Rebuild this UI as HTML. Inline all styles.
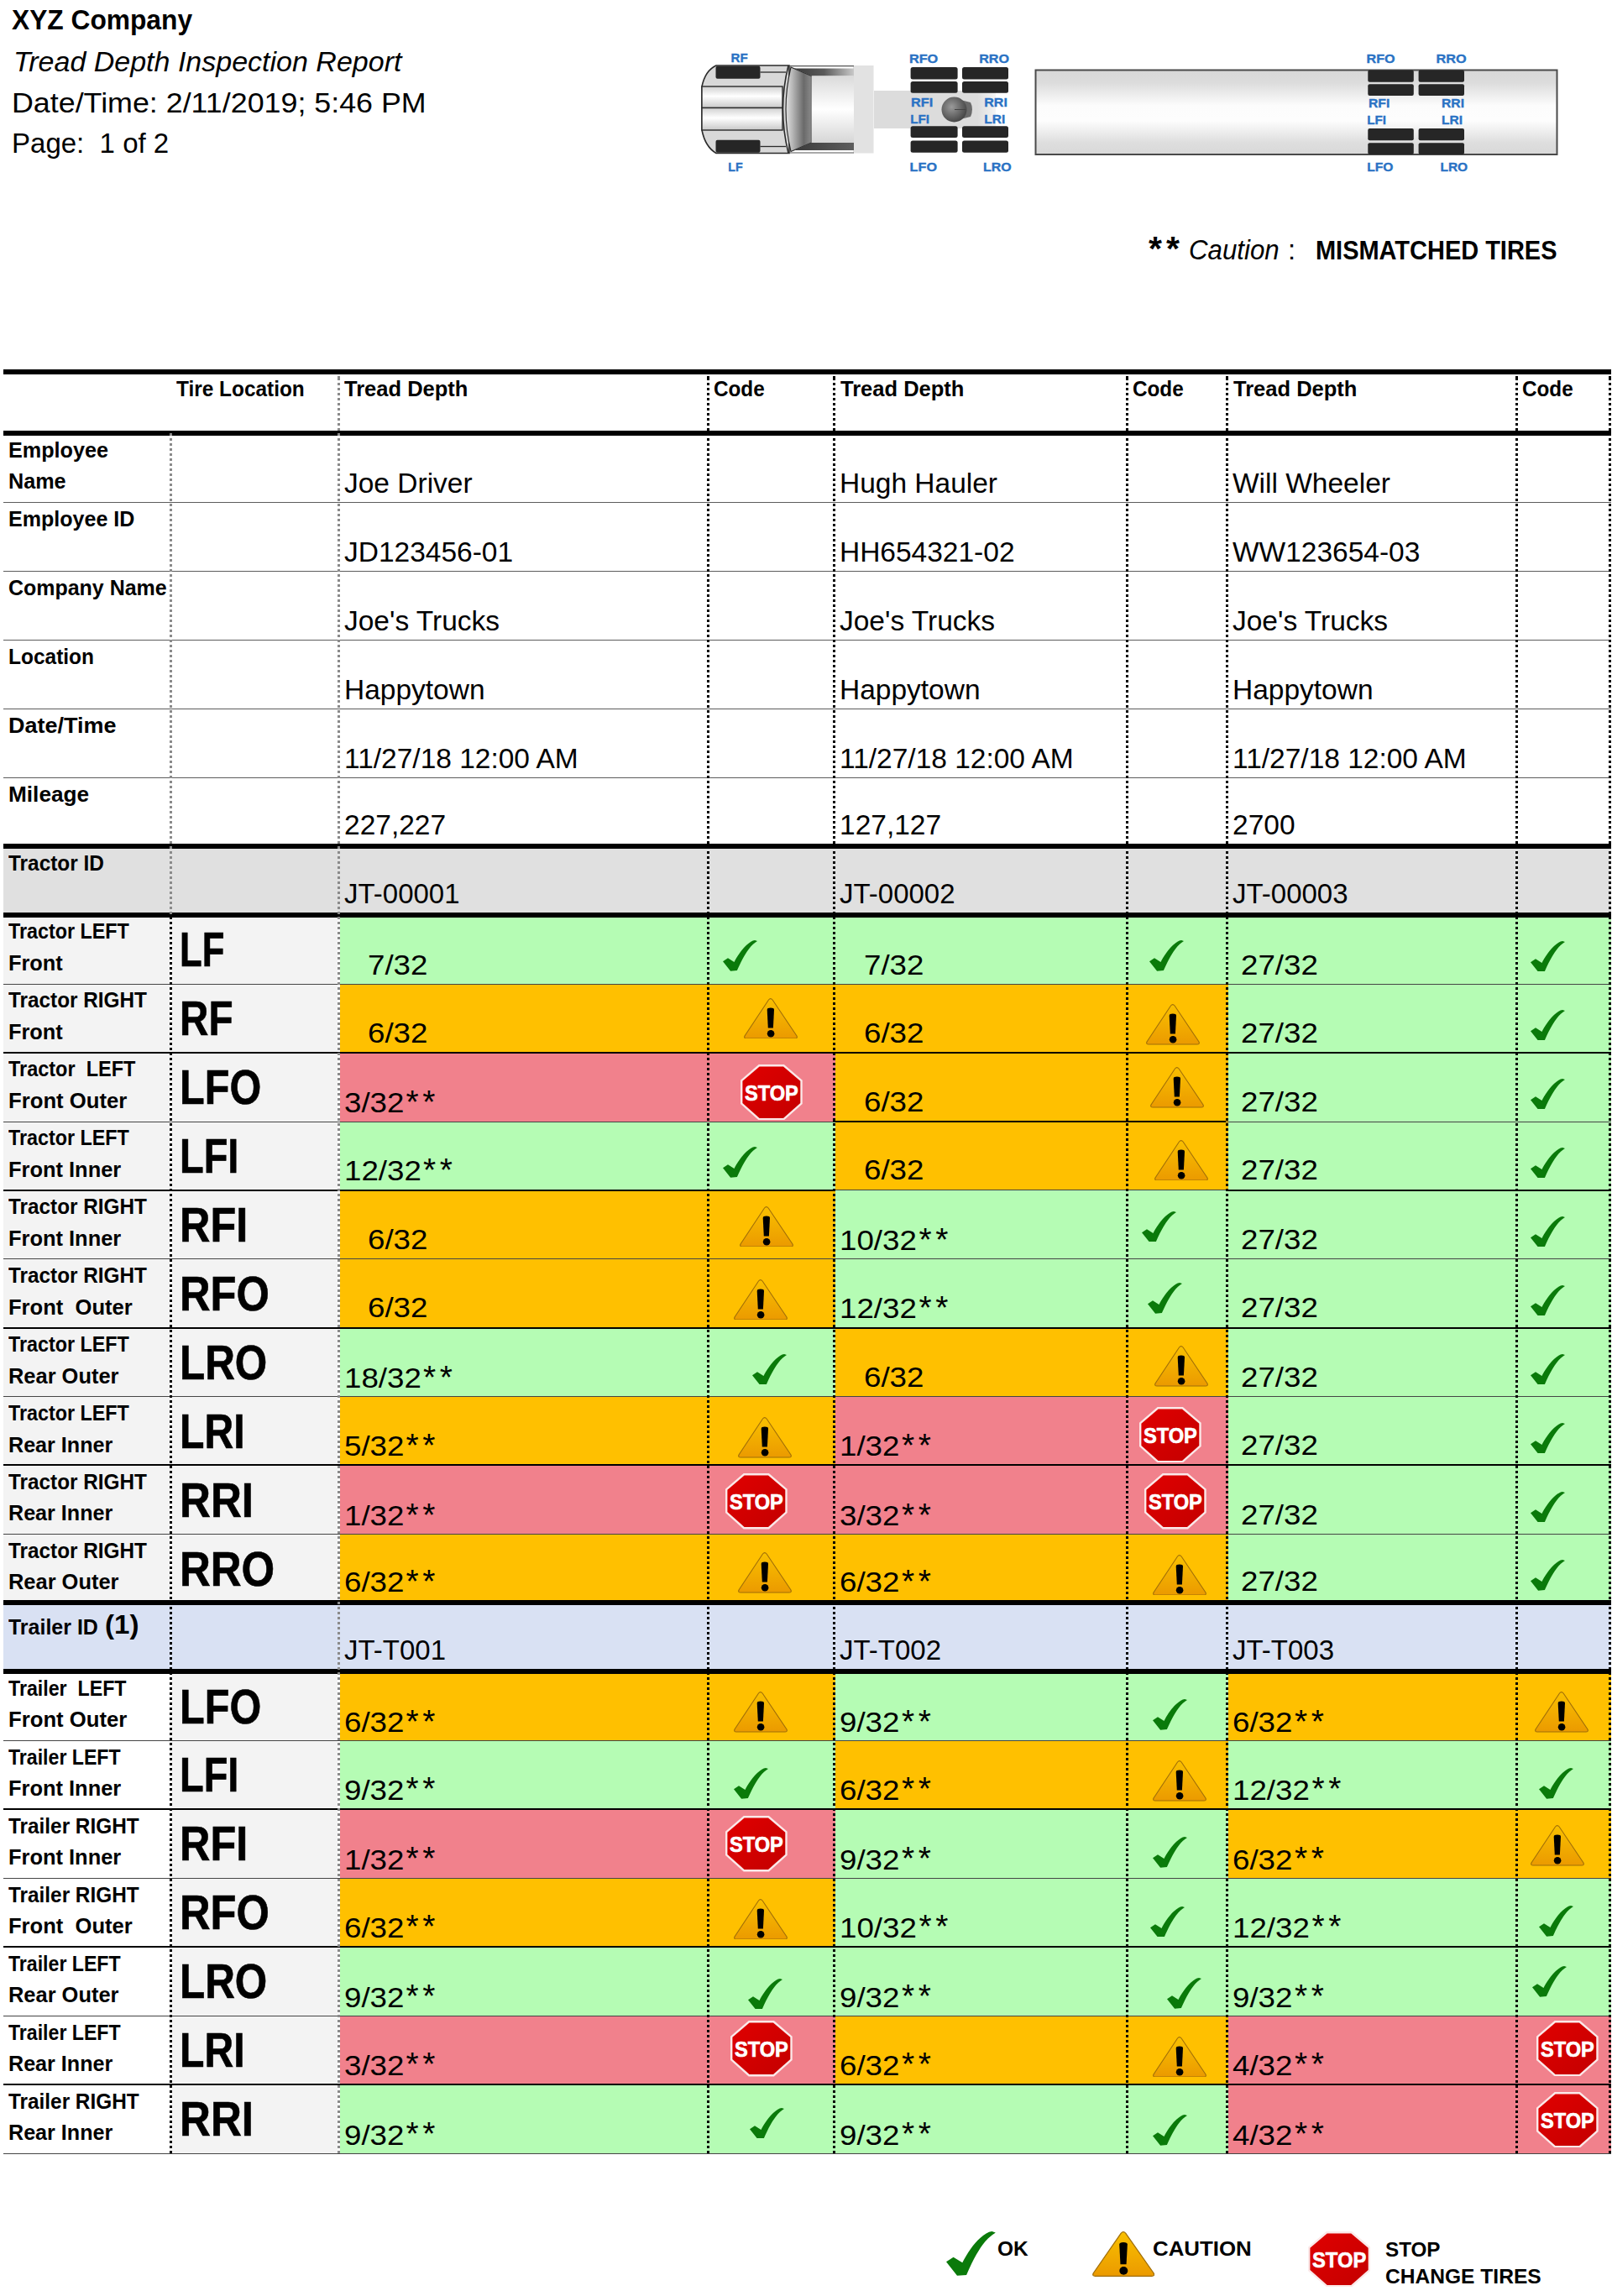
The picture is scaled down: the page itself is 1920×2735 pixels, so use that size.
<!DOCTYPE html><html><head><meta charset="utf-8"><style>
*{margin:0;padding:0;box-sizing:border-box}
html,body{width:1920px;height:2735px;overflow:hidden;background:#fff}
body{position:relative;font-family:"Liberation Sans",sans-serif}
.t{position:absolute;line-height:0;white-space:pre}
.r{position:absolute}
</style></head><body>
<svg width="0" height="0" style="position:absolute"><defs>
<linearGradient id="wg" x1="0" y1="0" x2="0" y2="1"><stop offset="0" stop-color="#f9c000"/><stop offset="1" stop-color="#eb9a00"/></linearGradient>
<linearGradient id="sg" x1="0" y1="0" x2="1" y2="1"><stop offset="0" stop-color="#e00000"/><stop offset="1" stop-color="#c40000"/></linearGradient>
<g id="chk"><path d="M0,25.2 L6,21.3 L13.5,25.9 C17,19 23,10 28.5,5.4 C32,2.5 35,0.4 38.1,0 L41.2,1 C38,3 34,6.5 31.9,9.2 C28,14 23,22 16.9,36.1 L9.1,36.7 Z" fill="#0a7a0a"/></g>
<g id="wrn"><path d="M29.5,2 Q31.8,-0.8 34.1,2 L63,45 Q64.2,48 61,48 L3,48 Q-0.2,48 1,45 Z" fill="url(#wg)" stroke="#a06e08" stroke-width="1.1"/>
<path d="M27.7,14 Q27.7,11.6 31.9,11.6 Q36,11.6 36,14 L34.9,35.4 L28.8,35.4 Z" fill="#000"/><circle cx="32.1" cy="42.2" r="4.3" fill="#000"/></g>
<g id="stp"><polygon points="21.7,0 51.9,0 73.7,18.7 73.7,47.1 51.9,66.4 21.7,66.4 0,47.1 0,18.7" fill="#fbe9e9"/>
<polygon points="22.6,2.4 51,2.4 71.3,19.7 71.3,46.1 51,64 22.6,64 2.4,46.1 2.4,19.7" fill="url(#sg)"/>
<text x="4.9" y="42.7" font-family="Liberation Sans" font-weight="bold" font-size="26.7" fill="#fff" stroke="#fff" stroke-width="0.7" textLength="64" lengthAdjust="spacingAndGlyphs">STOP</text></g>
</defs></svg><div class="t" style="left:14.0px;top:24.2px;font-size:33.4px;font-weight:bold;transform:scaleX(0.950);transform-origin:0 0;color:#000;">XYZ Company</div>
<div class="t" style="left:16.0px;top:72.7px;font-size:34px;font-style:italic;color:#000;">Tread Depth Inspection Report</div>
<div class="t" style="left:14.0px;top:121.8px;font-size:33.7px;transform:scaleX(1.063);transform-origin:0 0;color:#000;">Date/Time: 2/11/2019; 5:46 PM</div>
<div class="t" style="left:14.0px;top:170.3px;font-size:33.7px;transform:scaleX(0.980);transform-origin:0 0;color:#000;">Page:&nbsp; 1 of 2</div>
<div class="t" style="left:1368.0px;top:296.3px;font-size:41px;font-weight:bold;color:#000;letter-spacing:5px;">**</div>
<div class="t" style="left:1416.0px;top:298.2px;font-size:32.7px;font-style:italic;transform:scaleX(0.956);transform-origin:0 0;color:#000;">Caution</div>
<div class="t" style="left:1534.0px;top:298.2px;font-size:32.7px;color:#000;">:</div>
<div class="t" style="left:1567.0px;top:298.4px;font-size:32px;font-weight:bold;transform:scaleX(0.905);transform-origin:0 0;color:#000;">MISMATCHED TIRES</div>
<div class="r" style="left:4.0px;top:1007.9px;width:1915.0px;height:81.9px;background:#e0e0e0;"></div>
<div class="r" style="left:4.0px;top:1909.4px;width:1915.0px;height:82.0px;background:#d9e1f3;"></div>
<div class="r" style="left:4.0px;top:1089.8px;width:198.0px;height:82.0px;background:#f3f3f3;"></div>
<div class="r" style="left:205.0px;top:1089.8px;width:197.0px;height:82.0px;background:#f3f3f3;"></div>
<div class="r" style="left:405.0px;top:1089.8px;width:590.0px;height:82.0px;background:#b5fcb4;"></div>
<div class="r" style="left:995.0px;top:1089.8px;width:468.0px;height:82.0px;background:#b5fcb4;"></div>
<div class="r" style="left:1463.0px;top:1089.8px;width:456.0px;height:82.0px;background:#b5fcb4;"></div>
<div class="r" style="left:4.0px;top:1171.8px;width:198.0px;height:81.9px;background:#f3f3f3;"></div>
<div class="r" style="left:205.0px;top:1171.8px;width:197.0px;height:81.9px;background:#f3f3f3;"></div>
<div class="r" style="left:405.0px;top:1171.8px;width:590.0px;height:81.9px;background:#ffc000;"></div>
<div class="r" style="left:995.0px;top:1171.8px;width:468.0px;height:81.9px;background:#ffc000;"></div>
<div class="r" style="left:1463.0px;top:1171.8px;width:456.0px;height:81.9px;background:#b5fcb4;"></div>
<div class="r" style="left:4.0px;top:1253.8px;width:198.0px;height:82.0px;background:#f3f3f3;"></div>
<div class="r" style="left:205.0px;top:1253.8px;width:197.0px;height:82.0px;background:#f3f3f3;"></div>
<div class="r" style="left:405.0px;top:1253.8px;width:590.0px;height:82.0px;background:#f1818c;"></div>
<div class="r" style="left:995.0px;top:1253.8px;width:468.0px;height:82.0px;background:#ffc000;"></div>
<div class="r" style="left:1463.0px;top:1253.8px;width:456.0px;height:82.0px;background:#b5fcb4;"></div>
<div class="r" style="left:4.0px;top:1335.7px;width:198.0px;height:82.0px;background:#f3f3f3;"></div>
<div class="r" style="left:205.0px;top:1335.7px;width:197.0px;height:82.0px;background:#f3f3f3;"></div>
<div class="r" style="left:405.0px;top:1335.7px;width:590.0px;height:82.0px;background:#b5fcb4;"></div>
<div class="r" style="left:995.0px;top:1335.7px;width:468.0px;height:82.0px;background:#ffc000;"></div>
<div class="r" style="left:1463.0px;top:1335.7px;width:456.0px;height:82.0px;background:#b5fcb4;"></div>
<div class="r" style="left:4.0px;top:1417.7px;width:198.0px;height:82.0px;background:#f3f3f3;"></div>
<div class="r" style="left:205.0px;top:1417.7px;width:197.0px;height:82.0px;background:#f3f3f3;"></div>
<div class="r" style="left:405.0px;top:1417.7px;width:590.0px;height:82.0px;background:#ffc000;"></div>
<div class="r" style="left:995.0px;top:1417.7px;width:468.0px;height:82.0px;background:#b5fcb4;"></div>
<div class="r" style="left:1463.0px;top:1417.7px;width:456.0px;height:82.0px;background:#b5fcb4;"></div>
<div class="r" style="left:4.0px;top:1499.6px;width:198.0px;height:82.0px;background:#f3f3f3;"></div>
<div class="r" style="left:205.0px;top:1499.6px;width:197.0px;height:82.0px;background:#f3f3f3;"></div>
<div class="r" style="left:405.0px;top:1499.6px;width:590.0px;height:82.0px;background:#ffc000;"></div>
<div class="r" style="left:995.0px;top:1499.6px;width:468.0px;height:82.0px;background:#b5fcb4;"></div>
<div class="r" style="left:1463.0px;top:1499.6px;width:456.0px;height:82.0px;background:#b5fcb4;"></div>
<div class="r" style="left:4.0px;top:1581.6px;width:198.0px;height:81.9px;background:#f3f3f3;"></div>
<div class="r" style="left:205.0px;top:1581.6px;width:197.0px;height:81.9px;background:#f3f3f3;"></div>
<div class="r" style="left:405.0px;top:1581.6px;width:590.0px;height:81.9px;background:#b5fcb4;"></div>
<div class="r" style="left:995.0px;top:1581.6px;width:468.0px;height:81.9px;background:#ffc000;"></div>
<div class="r" style="left:1463.0px;top:1581.6px;width:456.0px;height:81.9px;background:#b5fcb4;"></div>
<div class="r" style="left:4.0px;top:1663.5px;width:198.0px;height:82.0px;background:#f3f3f3;"></div>
<div class="r" style="left:205.0px;top:1663.5px;width:197.0px;height:82.0px;background:#f3f3f3;"></div>
<div class="r" style="left:405.0px;top:1663.5px;width:590.0px;height:82.0px;background:#ffc000;"></div>
<div class="r" style="left:995.0px;top:1663.5px;width:468.0px;height:82.0px;background:#f1818c;"></div>
<div class="r" style="left:1463.0px;top:1663.5px;width:456.0px;height:82.0px;background:#b5fcb4;"></div>
<div class="r" style="left:4.0px;top:1745.5px;width:198.0px;height:82.0px;background:#f3f3f3;"></div>
<div class="r" style="left:205.0px;top:1745.5px;width:197.0px;height:82.0px;background:#f3f3f3;"></div>
<div class="r" style="left:405.0px;top:1745.5px;width:590.0px;height:82.0px;background:#f1818c;"></div>
<div class="r" style="left:995.0px;top:1745.5px;width:468.0px;height:82.0px;background:#f1818c;"></div>
<div class="r" style="left:1463.0px;top:1745.5px;width:456.0px;height:82.0px;background:#b5fcb4;"></div>
<div class="r" style="left:4.0px;top:1827.4px;width:198.0px;height:82.0px;background:#f3f3f3;"></div>
<div class="r" style="left:205.0px;top:1827.4px;width:197.0px;height:82.0px;background:#f3f3f3;"></div>
<div class="r" style="left:405.0px;top:1827.4px;width:590.0px;height:82.0px;background:#ffc000;"></div>
<div class="r" style="left:995.0px;top:1827.4px;width:468.0px;height:82.0px;background:#ffc000;"></div>
<div class="r" style="left:1463.0px;top:1827.4px;width:456.0px;height:82.0px;background:#b5fcb4;"></div>
<div class="r" style="left:205.0px;top:1991.3px;width:197.0px;height:81.9px;background:#f3f3f3;"></div>
<div class="r" style="left:405.0px;top:1991.3px;width:590.0px;height:81.9px;background:#ffc000;"></div>
<div class="r" style="left:995.0px;top:1991.3px;width:468.0px;height:81.9px;background:#b5fcb4;"></div>
<div class="r" style="left:1463.0px;top:1991.3px;width:456.0px;height:81.9px;background:#ffc000;"></div>
<div class="r" style="left:205.0px;top:2073.2px;width:197.0px;height:81.9px;background:#f3f3f3;"></div>
<div class="r" style="left:405.0px;top:2073.2px;width:590.0px;height:81.9px;background:#b5fcb4;"></div>
<div class="r" style="left:995.0px;top:2073.2px;width:468.0px;height:81.9px;background:#ffc000;"></div>
<div class="r" style="left:1463.0px;top:2073.2px;width:456.0px;height:81.9px;background:#b5fcb4;"></div>
<div class="r" style="left:205.0px;top:2155.2px;width:197.0px;height:82.0px;background:#f3f3f3;"></div>
<div class="r" style="left:405.0px;top:2155.2px;width:590.0px;height:82.0px;background:#f1818c;"></div>
<div class="r" style="left:995.0px;top:2155.2px;width:468.0px;height:82.0px;background:#b5fcb4;"></div>
<div class="r" style="left:1463.0px;top:2155.2px;width:456.0px;height:82.0px;background:#ffc000;"></div>
<div class="r" style="left:205.0px;top:2237.2px;width:197.0px;height:82.0px;background:#f3f3f3;"></div>
<div class="r" style="left:405.0px;top:2237.2px;width:590.0px;height:82.0px;background:#ffc000;"></div>
<div class="r" style="left:995.0px;top:2237.2px;width:468.0px;height:82.0px;background:#b5fcb4;"></div>
<div class="r" style="left:1463.0px;top:2237.2px;width:456.0px;height:82.0px;background:#b5fcb4;"></div>
<div class="r" style="left:205.0px;top:2319.1px;width:197.0px;height:81.9px;background:#f3f3f3;"></div>
<div class="r" style="left:405.0px;top:2319.1px;width:590.0px;height:81.9px;background:#b5fcb4;"></div>
<div class="r" style="left:995.0px;top:2319.1px;width:468.0px;height:81.9px;background:#b5fcb4;"></div>
<div class="r" style="left:1463.0px;top:2319.1px;width:456.0px;height:81.9px;background:#b5fcb4;"></div>
<div class="r" style="left:205.0px;top:2401.1px;width:197.0px;height:81.9px;background:#f3f3f3;"></div>
<div class="r" style="left:405.0px;top:2401.1px;width:590.0px;height:81.9px;background:#f1818c;"></div>
<div class="r" style="left:995.0px;top:2401.1px;width:468.0px;height:81.9px;background:#ffc000;"></div>
<div class="r" style="left:1463.0px;top:2401.1px;width:456.0px;height:81.9px;background:#f1818c;"></div>
<div class="r" style="left:205.0px;top:2483.0px;width:197.0px;height:81.9px;background:#f3f3f3;"></div>
<div class="r" style="left:405.0px;top:2483.0px;width:590.0px;height:81.9px;background:#b5fcb4;"></div>
<div class="r" style="left:995.0px;top:2483.0px;width:468.0px;height:81.9px;background:#b5fcb4;"></div>
<div class="r" style="left:1463.0px;top:2483.0px;width:456.0px;height:81.9px;background:#f1818c;"></div>
<div class="r" style="left:4.0px;top:440.0px;width:1915.0px;height:6.0px;background:#000;"></div>
<div class="r" style="left:4.0px;top:513.0px;width:1915.0px;height:6.0px;background:#000;"></div>
<div class="r" style="left:4.0px;top:598.0px;width:1915.0px;height:1.0px;background:#5c5c5c;"></div>
<div class="r" style="left:4.0px;top:680.0px;width:1915.0px;height:1.0px;background:#5c5c5c;"></div>
<div class="r" style="left:4.0px;top:762.0px;width:1915.0px;height:1.0px;background:#5c5c5c;"></div>
<div class="r" style="left:4.0px;top:844.0px;width:1915.0px;height:1.0px;background:#5c5c5c;"></div>
<div class="r" style="left:4.0px;top:926.0px;width:1915.0px;height:1.0px;background:#5c5c5c;"></div>
<div class="r" style="left:4.0px;top:1005.0px;width:1915.0px;height:6.0px;background:#000;"></div>
<div class="r" style="left:4.0px;top:1087.0px;width:1915.0px;height:6.0px;background:#000;"></div>
<div class="r" style="left:4.0px;top:1906.0px;width:1915.0px;height:6.0px;background:#000;"></div>
<div class="r" style="left:4.0px;top:1988.0px;width:1915.0px;height:6.0px;background:#000;"></div>
<div class="r" style="left:4.0px;top:1172.0px;width:398.0px;height:1.0px;background:#454545;"></div>
<div class="r" style="left:402.0px;top:1172.0px;width:590.0px;height:1.0px;background:#454545;"></div>
<div class="r" style="left:992.0px;top:1172.0px;width:468.0px;height:1.0px;background:#454545;"></div>
<div class="r" style="left:1460.0px;top:1172.0px;width:459.0px;height:1.0px;background:#454545;"></div>
<div class="r" style="left:4.0px;top:1253.0px;width:398.0px;height:2.0px;background:#000;"></div>
<div class="r" style="left:402.0px;top:1253.0px;width:590.0px;height:2.0px;background:#000;"></div>
<div class="r" style="left:992.0px;top:1253.0px;width:468.0px;height:2.0px;background:#000;"></div>
<div class="r" style="left:1460.0px;top:1253.0px;width:459.0px;height:2.0px;background:#000;"></div>
<div class="r" style="left:4.0px;top:1336.0px;width:398.0px;height:1.0px;background:#454545;"></div>
<div class="r" style="left:402.0px;top:1336.0px;width:590.0px;height:1.0px;background:#454545;"></div>
<div class="r" style="left:992.0px;top:1335.0px;width:468.0px;height:2.0px;background:#000;"></div>
<div class="r" style="left:1460.0px;top:1336.0px;width:459.0px;height:1.0px;background:#454545;"></div>
<div class="r" style="left:4.0px;top:1417.0px;width:398.0px;height:2.0px;background:#000;"></div>
<div class="r" style="left:402.0px;top:1417.0px;width:590.0px;height:2.0px;background:#000;"></div>
<div class="r" style="left:992.0px;top:1417.0px;width:468.0px;height:1.0px;background:#454545;"></div>
<div class="r" style="left:1460.0px;top:1417.0px;width:459.0px;height:2.0px;background:#000;"></div>
<div class="r" style="left:4.0px;top:1499.0px;width:398.0px;height:1.0px;background:#454545;"></div>
<div class="r" style="left:402.0px;top:1499.0px;width:590.0px;height:1.0px;background:#454545;"></div>
<div class="r" style="left:992.0px;top:1499.0px;width:468.0px;height:1.0px;background:#454545;"></div>
<div class="r" style="left:1460.0px;top:1499.0px;width:459.0px;height:1.0px;background:#454545;"></div>
<div class="r" style="left:4.0px;top:1581.0px;width:398.0px;height:2.0px;background:#000;"></div>
<div class="r" style="left:402.0px;top:1581.0px;width:590.0px;height:2.0px;background:#000;"></div>
<div class="r" style="left:992.0px;top:1581.0px;width:468.0px;height:2.0px;background:#000;"></div>
<div class="r" style="left:1460.0px;top:1581.0px;width:459.0px;height:2.0px;background:#000;"></div>
<div class="r" style="left:4.0px;top:1663.0px;width:398.0px;height:1.0px;background:#454545;"></div>
<div class="r" style="left:402.0px;top:1663.0px;width:590.0px;height:1.0px;background:#454545;"></div>
<div class="r" style="left:992.0px;top:1663.0px;width:468.0px;height:1.0px;background:#454545;"></div>
<div class="r" style="left:1460.0px;top:1663.0px;width:459.0px;height:1.0px;background:#454545;"></div>
<div class="r" style="left:4.0px;top:1744.0px;width:398.0px;height:2.0px;background:#000;"></div>
<div class="r" style="left:402.0px;top:1744.0px;width:590.0px;height:2.0px;background:#000;"></div>
<div class="r" style="left:992.0px;top:1744.0px;width:468.0px;height:2.0px;background:#000;"></div>
<div class="r" style="left:1460.0px;top:1744.0px;width:459.0px;height:2.0px;background:#000;"></div>
<div class="r" style="left:4.0px;top:1827.0px;width:398.0px;height:1.0px;background:#454545;"></div>
<div class="r" style="left:402.0px;top:1827.0px;width:590.0px;height:1.0px;background:#454545;"></div>
<div class="r" style="left:992.0px;top:1827.0px;width:468.0px;height:1.0px;background:#454545;"></div>
<div class="r" style="left:1460.0px;top:1827.0px;width:459.0px;height:1.0px;background:#454545;"></div>
<div class="r" style="left:4.0px;top:2073.0px;width:1915.0px;height:1.0px;background:#454545;"></div>
<div class="r" style="left:4.0px;top:2154.0px;width:1915.0px;height:2.0px;background:#000;"></div>
<div class="r" style="left:4.0px;top:2237.0px;width:1915.0px;height:1.0px;background:#454545;"></div>
<div class="r" style="left:4.0px;top:2318.0px;width:1915.0px;height:2.0px;background:#000;"></div>
<div class="r" style="left:4.0px;top:2401.0px;width:1915.0px;height:1.0px;background:#454545;"></div>
<div class="r" style="left:4.0px;top:2482.0px;width:1915.0px;height:2.0px;background:#000;"></div>
<div class="r" style="left:4.0px;top:2565.0px;width:1915.0px;height:1.0px;background:#454545;"></div>
<div class="r" style="left:202px;top:516px;width:3px;height:574px;background:repeating-linear-gradient(to bottom,#8a8a8a 0 3px,transparent 3px 6px);background-position:0 0px"></div>
<div class="r" style="left:202px;top:1090px;width:3px;height:1476px;background:repeating-linear-gradient(to bottom,#000 0 3px,transparent 3px 6px);background-position:0 2px"></div>
<div class="r" style="left:402px;top:446px;width:3px;height:2120px;background:repeating-linear-gradient(to bottom,#8a8a8a 0 3px,transparent 3px 6px);background-position:0 4px"></div>
<div class="r" style="left:842px;top:446px;width:3px;height:2120px;background:repeating-linear-gradient(to bottom,#000 0 3px,transparent 3px 6px);background-position:0 4px"></div>
<div class="r" style="left:992px;top:446px;width:3px;height:2120px;background:repeating-linear-gradient(to bottom,#000 0 3px,transparent 3px 6px);background-position:0 4px"></div>
<div class="r" style="left:1341px;top:446px;width:3px;height:2120px;background:repeating-linear-gradient(to bottom,#000 0 3px,transparent 3px 6px);background-position:0 4px"></div>
<div class="r" style="left:1460px;top:446px;width:3px;height:2120px;background:repeating-linear-gradient(to bottom,#000 0 3px,transparent 3px 6px);background-position:0 4px"></div>
<div class="r" style="left:1805px;top:446px;width:3px;height:2120px;background:repeating-linear-gradient(to bottom,#000 0 3px,transparent 3px 6px);background-position:0 4px"></div>
<div class="r" style="left:1916px;top:446px;width:3px;height:2120px;background:repeating-linear-gradient(to bottom,#000 0 3px,transparent 3px 6px);background-position:0 4px"></div>
<div class="t" style="left:209.5px;top:462.6px;font-size:25.7px;font-weight:bold;transform:scaleX(0.950);transform-origin:0 0;color:#000;">Tire Location</div>
<div class="t" style="left:409.5px;top:462.6px;font-size:25.7px;font-weight:bold;transform:scaleX(0.993);transform-origin:0 0;color:#000;">Tread Depth</div>
<div class="t" style="left:849.5px;top:462.6px;font-size:25.7px;font-weight:bold;transform:scaleX(0.945);transform-origin:0 0;color:#000;">Code</div>
<div class="t" style="left:1000.5px;top:462.6px;font-size:25.7px;font-weight:bold;transform:scaleX(0.993);transform-origin:0 0;color:#000;">Tread Depth</div>
<div class="t" style="left:1348.5px;top:462.6px;font-size:25.7px;font-weight:bold;transform:scaleX(0.945);transform-origin:0 0;color:#000;">Code</div>
<div class="t" style="left:1468.5px;top:462.6px;font-size:25.7px;font-weight:bold;transform:scaleX(0.993);transform-origin:0 0;color:#000;">Tread Depth</div>
<div class="t" style="left:1812.5px;top:462.6px;font-size:25.7px;font-weight:bold;transform:scaleX(0.945);transform-origin:0 0;color:#000;">Code</div>
<div class="t" style="left:10.0px;top:535.8px;font-size:25.7px;font-weight:bold;transform:scaleX(0.980);transform-origin:0 0;color:#000;">Employee</div>
<div class="t" style="left:10.0px;top:573.2px;font-size:25.7px;font-weight:bold;transform:scaleX(0.980);transform-origin:0 0;color:#000;">Name</div>
<div class="t" style="left:409.5px;top:575.0px;font-size:34px;transform:scaleX(0.985);transform-origin:0 0;color:#000;">Joe Driver</div>
<div class="t" style="left:1000.0px;top:575.0px;font-size:34px;transform:scaleX(0.985);transform-origin:0 0;color:#000;">Hugh Hauler</div>
<div class="t" style="left:1468.0px;top:575.0px;font-size:34px;transform:scaleX(0.985);transform-origin:0 0;color:#000;">Will Wheeler</div>
<div class="t" style="left:10.0px;top:617.7px;font-size:25.7px;font-weight:bold;transform:scaleX(0.975);transform-origin:0 0;color:#000;">Employee ID</div>
<div class="t" style="left:409.5px;top:656.9px;font-size:34px;transform:scaleX(0.985);transform-origin:0 0;color:#000;">JD123456-01</div>
<div class="t" style="left:1000.0px;top:656.9px;font-size:34px;transform:scaleX(0.985);transform-origin:0 0;color:#000;">HH654321-02</div>
<div class="t" style="left:1468.0px;top:656.9px;font-size:34px;transform:scaleX(0.985);transform-origin:0 0;color:#000;">WW123654-03</div>
<div class="t" style="left:10.0px;top:699.7px;font-size:25.7px;font-weight:bold;transform:scaleX(0.972);transform-origin:0 0;color:#000;">Company Name</div>
<div class="t" style="left:409.5px;top:738.9px;font-size:34px;transform:scaleX(0.985);transform-origin:0 0;color:#000;">Joe's Trucks</div>
<div class="t" style="left:1000.0px;top:738.9px;font-size:34px;transform:scaleX(0.985);transform-origin:0 0;color:#000;">Joe's Trucks</div>
<div class="t" style="left:1468.0px;top:738.9px;font-size:34px;transform:scaleX(0.985);transform-origin:0 0;color:#000;">Joe's Trucks</div>
<div class="t" style="left:10.0px;top:781.6px;font-size:25.7px;font-weight:bold;transform:scaleX(0.953);transform-origin:0 0;color:#000;">Location</div>
<div class="t" style="left:409.5px;top:820.8px;font-size:34px;transform:scaleX(0.985);transform-origin:0 0;color:#000;">Happytown</div>
<div class="t" style="left:1000.0px;top:820.8px;font-size:34px;transform:scaleX(0.985);transform-origin:0 0;color:#000;">Happytown</div>
<div class="t" style="left:1468.0px;top:820.8px;font-size:34px;transform:scaleX(0.985);transform-origin:0 0;color:#000;">Happytown</div>
<div class="t" style="left:10.0px;top:863.6px;font-size:25.7px;font-weight:bold;transform:scaleX(1.050);transform-origin:0 0;color:#000;">Date/Time</div>
<div class="t" style="left:409.5px;top:902.8px;font-size:34px;transform:scaleX(0.985);transform-origin:0 0;color:#000;">11/27/18 12:00 AM</div>
<div class="t" style="left:1000.0px;top:902.8px;font-size:34px;transform:scaleX(0.985);transform-origin:0 0;color:#000;">11/27/18 12:00 AM</div>
<div class="t" style="left:1468.0px;top:902.8px;font-size:34px;transform:scaleX(0.985);transform-origin:0 0;color:#000;">11/27/18 12:00 AM</div>
<div class="t" style="left:10.0px;top:945.5px;font-size:25.7px;font-weight:bold;transform:scaleX(1.020);transform-origin:0 0;color:#000;">Mileage</div>
<div class="t" style="left:409.5px;top:981.8px;font-size:34px;transform:scaleX(0.985);transform-origin:0 0;color:#000;">227,227</div>
<div class="t" style="left:1000.0px;top:981.8px;font-size:34px;transform:scaleX(0.985);transform-origin:0 0;color:#000;">127,127</div>
<div class="t" style="left:1468.0px;top:981.8px;font-size:34px;transform:scaleX(0.985);transform-origin:0 0;color:#000;">2700</div>
<div class="t" style="left:10.0px;top:1027.5px;font-size:25.7px;font-weight:bold;transform:scaleX(0.950);transform-origin:0 0;color:#000;">Tractor ID</div>
<div class="t" style="left:409.5px;top:1063.8px;font-size:34px;transform:scaleX(0.970);transform-origin:0 0;color:#000;">JT-00001</div>
<div class="t" style="left:1000.0px;top:1063.8px;font-size:34px;transform:scaleX(0.970);transform-origin:0 0;color:#000;">JT-00002</div>
<div class="t" style="left:1468.0px;top:1063.8px;font-size:34px;transform:scaleX(0.970);transform-origin:0 0;color:#000;">JT-00003</div>
<div class="t" style="left:10.0px;top:1937.9px;font-size:25.7px;font-weight:bold;transform:scaleX(0.972);transform-origin:0 0;color:#000;">Trailer ID</div>
<div class="t" style="left:125.0px;top:1935.1px;font-size:31.5px;font-weight:bold;transform:scaleX(1.050);transform-origin:0 0;color:#000;">(1)</div>
<div class="t" style="left:409.5px;top:1965.2px;font-size:34px;transform:scaleX(0.970);transform-origin:0 0;color:#000;">JT-T001</div>
<div class="t" style="left:1000.0px;top:1965.2px;font-size:34px;transform:scaleX(0.970);transform-origin:0 0;color:#000;">JT-T002</div>
<div class="t" style="left:1468.0px;top:1965.2px;font-size:34px;transform:scaleX(0.970);transform-origin:0 0;color:#000;">JT-T003</div>
<div class="t" style="left:10.0px;top:1109.4px;font-size:25.7px;font-weight:bold;transform:scaleX(0.908);transform-origin:0 0;color:#000;">Tractor LEFT</div>
<div class="t" style="left:10.0px;top:1146.8px;font-size:25.7px;font-weight:bold;transform:scaleX(0.987);transform-origin:0 0;color:#000;">Front</div>
<div class="t" style="left:214.0px;top:1131.0px;font-size:57.6px;font-weight:bold;transform:scaleX(0.758);transform-origin:0 0;color:#000;-webkit-text-stroke:0.6px #000;">LF</div>
<div class="t" style="left:438.0px;top:1148.5px;font-size:34px;color:#000;"><span style="display:inline-block;transform:scaleX(1.08);transform-origin:0 0">7/32</span></div>
<div class="t" style="left:1028.5px;top:1148.5px;font-size:34px;color:#000;"><span style="display:inline-block;transform:scaleX(1.08);transform-origin:0 0">7/32</span></div>
<div class="t" style="left:1477.5px;top:1148.5px;font-size:34px;color:#000;"><span style="display:inline-block;transform:scaleX(1.08);transform-origin:0 0">27/32</span></div>
<div class="t" style="left:10.0px;top:1191.4px;font-size:25.7px;font-weight:bold;transform:scaleX(0.947);transform-origin:0 0;color:#000;">Tractor RIGHT</div>
<div class="t" style="left:10.0px;top:1228.8px;font-size:25.7px;font-weight:bold;transform:scaleX(0.987);transform-origin:0 0;color:#000;">Front</div>
<div class="t" style="left:213.7px;top:1213.0px;font-size:57.6px;font-weight:bold;transform:scaleX(0.827);transform-origin:0 0;color:#000;-webkit-text-stroke:0.6px #000;">RF</div>
<div class="t" style="left:438.0px;top:1229.5px;font-size:34px;color:#000;"><span style="display:inline-block;transform:scaleX(1.08);transform-origin:0 0">6/32</span></div>
<div class="t" style="left:1028.5px;top:1229.5px;font-size:34px;color:#000;"><span style="display:inline-block;transform:scaleX(1.08);transform-origin:0 0">6/32</span></div>
<div class="t" style="left:1477.5px;top:1229.5px;font-size:34px;color:#000;"><span style="display:inline-block;transform:scaleX(1.08);transform-origin:0 0">27/32</span></div>
<div class="t" style="left:10.0px;top:1273.3px;font-size:25.7px;font-weight:bold;transform:scaleX(0.914);transform-origin:0 0;color:#000;">Tractor&nbsp; LEFT</div>
<div class="t" style="left:10.0px;top:1310.7px;font-size:25.7px;font-weight:bold;color:#000;">Front Outer</div>
<div class="t" style="left:213.6px;top:1294.9px;font-size:57.6px;font-weight:bold;transform:scaleX(0.844);transform-origin:0 0;color:#000;-webkit-text-stroke:0.6px #000;">LFO</div>
<div class="t" style="left:409.5px;top:1312.4px;font-size:34px;color:#000;"><span style="display:inline-block;width:71.4px;transform:scaleX(1.08);transform-origin:0 0">3/32</span><span style="font-size:39px;letter-spacing:4.8px;position:relative;top:0.5px;margin-left:2.5px">**</span></div>
<div class="t" style="left:1028.5px;top:1312.4px;font-size:34px;color:#000;"><span style="display:inline-block;transform:scaleX(1.08);transform-origin:0 0">6/32</span></div>
<div class="t" style="left:1477.5px;top:1312.4px;font-size:34px;color:#000;"><span style="display:inline-block;transform:scaleX(1.08);transform-origin:0 0">27/32</span></div>
<div class="t" style="left:10.0px;top:1355.3px;font-size:25.7px;font-weight:bold;transform:scaleX(0.908);transform-origin:0 0;color:#000;">Tractor LEFT</div>
<div class="t" style="left:10.0px;top:1392.7px;font-size:25.7px;font-weight:bold;transform:scaleX(0.990);transform-origin:0 0;color:#000;">Front Inner</div>
<div class="t" style="left:213.7px;top:1376.9px;font-size:57.6px;font-weight:bold;transform:scaleX(0.815);transform-origin:0 0;color:#000;-webkit-text-stroke:0.6px #000;">LFI</div>
<div class="t" style="left:409.5px;top:1393.4px;font-size:34px;color:#000;"><span style="display:inline-block;width:91.9px;transform:scaleX(1.08);transform-origin:0 0">12/32</span><span style="font-size:39px;letter-spacing:4.8px;position:relative;top:0.5px;margin-left:2.5px">**</span></div>
<div class="t" style="left:1028.5px;top:1393.4px;font-size:34px;color:#000;"><span style="display:inline-block;transform:scaleX(1.08);transform-origin:0 0">6/32</span></div>
<div class="t" style="left:1477.5px;top:1393.4px;font-size:34px;color:#000;"><span style="display:inline-block;transform:scaleX(1.08);transform-origin:0 0">27/32</span></div>
<div class="t" style="left:10.0px;top:1437.2px;font-size:25.7px;font-weight:bold;transform:scaleX(0.947);transform-origin:0 0;color:#000;">Tractor RIGHT</div>
<div class="t" style="left:10.0px;top:1474.6px;font-size:25.7px;font-weight:bold;transform:scaleX(0.990);transform-origin:0 0;color:#000;">Front Inner</div>
<div class="t" style="left:213.5px;top:1458.8px;font-size:57.6px;font-weight:bold;transform:scaleX(0.875);transform-origin:0 0;color:#000;-webkit-text-stroke:0.6px #000;">RFI</div>
<div class="t" style="left:438.0px;top:1476.3px;font-size:34px;color:#000;"><span style="display:inline-block;transform:scaleX(1.08);transform-origin:0 0">6/32</span></div>
<div class="t" style="left:1000.0px;top:1476.3px;font-size:34px;color:#000;"><span style="display:inline-block;width:91.9px;transform:scaleX(1.08);transform-origin:0 0">10/32</span><span style="font-size:39px;letter-spacing:4.8px;position:relative;top:0.5px;margin-left:2.5px">**</span></div>
<div class="t" style="left:1477.5px;top:1476.3px;font-size:34px;color:#000;"><span style="display:inline-block;transform:scaleX(1.08);transform-origin:0 0">27/32</span></div>
<div class="t" style="left:10.0px;top:1519.2px;font-size:25.7px;font-weight:bold;transform:scaleX(0.947);transform-origin:0 0;color:#000;">Tractor RIGHT</div>
<div class="t" style="left:10.0px;top:1556.6px;font-size:25.7px;font-weight:bold;transform:scaleX(0.995);transform-origin:0 0;color:#000;">Front&nbsp; Outer</div>
<div class="t" style="left:213.5px;top:1540.8px;font-size:57.6px;font-weight:bold;transform:scaleX(0.880);transform-origin:0 0;color:#000;-webkit-text-stroke:0.6px #000;">RFO</div>
<div class="t" style="left:438.0px;top:1557.3px;font-size:34px;color:#000;"><span style="display:inline-block;transform:scaleX(1.08);transform-origin:0 0">6/32</span></div>
<div class="t" style="left:1000.0px;top:1557.3px;font-size:34px;color:#000;"><span style="display:inline-block;width:91.9px;transform:scaleX(1.08);transform-origin:0 0">12/32</span><span style="font-size:39px;letter-spacing:4.8px;position:relative;top:0.5px;margin-left:2.5px">**</span></div>
<div class="t" style="left:1477.5px;top:1557.3px;font-size:34px;color:#000;"><span style="display:inline-block;transform:scaleX(1.08);transform-origin:0 0">27/32</span></div>
<div class="t" style="left:10.0px;top:1601.1px;font-size:25.7px;font-weight:bold;transform:scaleX(0.908);transform-origin:0 0;color:#000;">Tractor LEFT</div>
<div class="t" style="left:10.0px;top:1638.5px;font-size:25.7px;font-weight:bold;transform:scaleX(0.990);transform-origin:0 0;color:#000;">Rear Outer</div>
<div class="t" style="left:213.6px;top:1622.7px;font-size:57.6px;font-weight:bold;transform:scaleX(0.858);transform-origin:0 0;color:#000;-webkit-text-stroke:0.6px #000;">LRO</div>
<div class="t" style="left:409.5px;top:1640.2px;font-size:34px;color:#000;"><span style="display:inline-block;width:91.9px;transform:scaleX(1.08);transform-origin:0 0">18/32</span><span style="font-size:39px;letter-spacing:4.8px;position:relative;top:0.5px;margin-left:2.5px">**</span></div>
<div class="t" style="left:1028.5px;top:1640.2px;font-size:34px;color:#000;"><span style="display:inline-block;transform:scaleX(1.08);transform-origin:0 0">6/32</span></div>
<div class="t" style="left:1477.5px;top:1640.2px;font-size:34px;color:#000;"><span style="display:inline-block;transform:scaleX(1.08);transform-origin:0 0">27/32</span></div>
<div class="t" style="left:10.0px;top:1683.1px;font-size:25.7px;font-weight:bold;transform:scaleX(0.908);transform-origin:0 0;color:#000;">Tractor LEFT</div>
<div class="t" style="left:10.0px;top:1720.5px;font-size:25.7px;font-weight:bold;transform:scaleX(0.978);transform-origin:0 0;color:#000;">Rear Inner</div>
<div class="t" style="left:213.7px;top:1704.7px;font-size:57.6px;font-weight:bold;transform:scaleX(0.836);transform-origin:0 0;color:#000;-webkit-text-stroke:0.6px #000;">LRI</div>
<div class="t" style="left:409.5px;top:1721.2px;font-size:34px;color:#000;"><span style="display:inline-block;width:71.4px;transform:scaleX(1.08);transform-origin:0 0">5/32</span><span style="font-size:39px;letter-spacing:4.8px;position:relative;top:0.5px;margin-left:2.5px">**</span></div>
<div class="t" style="left:1000.0px;top:1721.2px;font-size:34px;color:#000;"><span style="display:inline-block;width:71.4px;transform:scaleX(1.08);transform-origin:0 0">1/32</span><span style="font-size:39px;letter-spacing:4.8px;position:relative;top:0.5px;margin-left:2.5px">**</span></div>
<div class="t" style="left:1477.5px;top:1721.2px;font-size:34px;color:#000;"><span style="display:inline-block;transform:scaleX(1.08);transform-origin:0 0">27/32</span></div>
<div class="t" style="left:10.0px;top:1765.0px;font-size:25.7px;font-weight:bold;transform:scaleX(0.947);transform-origin:0 0;color:#000;">Tractor RIGHT</div>
<div class="t" style="left:10.0px;top:1802.4px;font-size:25.7px;font-weight:bold;transform:scaleX(0.978);transform-origin:0 0;color:#000;">Rear Inner</div>
<div class="t" style="left:213.5px;top:1786.6px;font-size:57.6px;font-weight:bold;transform:scaleX(0.887);transform-origin:0 0;color:#000;-webkit-text-stroke:0.6px #000;">RRI</div>
<div class="t" style="left:409.5px;top:1804.1px;font-size:34px;color:#000;"><span style="display:inline-block;width:71.4px;transform:scaleX(1.08);transform-origin:0 0">1/32</span><span style="font-size:39px;letter-spacing:4.8px;position:relative;top:0.5px;margin-left:2.5px">**</span></div>
<div class="t" style="left:1000.0px;top:1804.1px;font-size:34px;color:#000;"><span style="display:inline-block;width:71.4px;transform:scaleX(1.08);transform-origin:0 0">3/32</span><span style="font-size:39px;letter-spacing:4.8px;position:relative;top:0.5px;margin-left:2.5px">**</span></div>
<div class="t" style="left:1477.5px;top:1804.1px;font-size:34px;color:#000;"><span style="display:inline-block;transform:scaleX(1.08);transform-origin:0 0">27/32</span></div>
<div class="t" style="left:10.0px;top:1847.0px;font-size:25.7px;font-weight:bold;transform:scaleX(0.947);transform-origin:0 0;color:#000;">Tractor RIGHT</div>
<div class="t" style="left:10.0px;top:1884.4px;font-size:25.7px;font-weight:bold;transform:scaleX(0.990);transform-origin:0 0;color:#000;">Rear Outer</div>
<div class="t" style="left:213.5px;top:1868.6px;font-size:57.6px;font-weight:bold;transform:scaleX(0.885);transform-origin:0 0;color:#000;-webkit-text-stroke:0.6px #000;">RRO</div>
<div class="t" style="left:409.5px;top:1883.3px;font-size:34px;color:#000;"><span style="display:inline-block;width:71.4px;transform:scaleX(1.08);transform-origin:0 0">6/32</span><span style="font-size:39px;letter-spacing:4.8px;position:relative;top:0.5px;margin-left:2.5px">**</span></div>
<div class="t" style="left:1000.0px;top:1883.3px;font-size:34px;color:#000;"><span style="display:inline-block;width:71.4px;transform:scaleX(1.08);transform-origin:0 0">6/32</span><span style="font-size:39px;letter-spacing:4.8px;position:relative;top:0.5px;margin-left:2.5px">**</span></div>
<div class="t" style="left:1477.5px;top:1883.3px;font-size:34px;color:#000;"><span style="display:inline-block;transform:scaleX(1.08);transform-origin:0 0">27/32</span></div>
<div class="t" style="left:10.0px;top:2010.9px;font-size:25.7px;font-weight:bold;transform:scaleX(0.903);transform-origin:0 0;color:#000;">Trailer&nbsp; LEFT</div>
<div class="t" style="left:10.0px;top:2048.3px;font-size:25.7px;font-weight:bold;color:#000;">Front Outer</div>
<div class="t" style="left:213.6px;top:2032.5px;font-size:57.6px;font-weight:bold;transform:scaleX(0.844);transform-origin:0 0;color:#000;-webkit-text-stroke:0.6px #000;">LFO</div>
<div class="t" style="left:409.5px;top:2050.0px;font-size:34px;color:#000;"><span style="display:inline-block;width:71.4px;transform:scaleX(1.08);transform-origin:0 0">6/32</span><span style="font-size:39px;letter-spacing:4.8px;position:relative;top:0.5px;margin-left:2.5px">**</span></div>
<div class="t" style="left:1000.0px;top:2050.0px;font-size:34px;color:#000;"><span style="display:inline-block;width:71.4px;transform:scaleX(1.08);transform-origin:0 0">9/32</span><span style="font-size:39px;letter-spacing:4.8px;position:relative;top:0.5px;margin-left:2.5px">**</span></div>
<div class="t" style="left:1468.0px;top:2050.0px;font-size:34px;color:#000;"><span style="display:inline-block;width:71.4px;transform:scaleX(1.08);transform-origin:0 0">6/32</span><span style="font-size:39px;letter-spacing:4.8px;position:relative;top:0.5px;margin-left:2.5px">**</span></div>
<div class="t" style="left:10.0px;top:2092.8px;font-size:25.7px;font-weight:bold;transform:scaleX(0.900);transform-origin:0 0;color:#000;">Trailer LEFT</div>
<div class="t" style="left:10.0px;top:2130.2px;font-size:25.7px;font-weight:bold;transform:scaleX(0.990);transform-origin:0 0;color:#000;">Front Inner</div>
<div class="t" style="left:213.7px;top:2114.4px;font-size:57.6px;font-weight:bold;transform:scaleX(0.815);transform-origin:0 0;color:#000;-webkit-text-stroke:0.6px #000;">LFI</div>
<div class="t" style="left:409.5px;top:2130.9px;font-size:34px;color:#000;"><span style="display:inline-block;width:71.4px;transform:scaleX(1.08);transform-origin:0 0">9/32</span><span style="font-size:39px;letter-spacing:4.8px;position:relative;top:0.5px;margin-left:2.5px">**</span></div>
<div class="t" style="left:1000.0px;top:2130.9px;font-size:34px;color:#000;"><span style="display:inline-block;width:71.4px;transform:scaleX(1.08);transform-origin:0 0">6/32</span><span style="font-size:39px;letter-spacing:4.8px;position:relative;top:0.5px;margin-left:2.5px">**</span></div>
<div class="t" style="left:1468.0px;top:2130.9px;font-size:34px;color:#000;"><span style="display:inline-block;width:91.9px;transform:scaleX(1.08);transform-origin:0 0">12/32</span><span style="font-size:39px;letter-spacing:4.8px;position:relative;top:0.5px;margin-left:2.5px">**</span></div>
<div class="t" style="left:10.0px;top:2174.8px;font-size:25.7px;font-weight:bold;transform:scaleX(0.948);transform-origin:0 0;color:#000;">Trailer RIGHT</div>
<div class="t" style="left:10.0px;top:2212.2px;font-size:25.7px;font-weight:bold;transform:scaleX(0.990);transform-origin:0 0;color:#000;">Front Inner</div>
<div class="t" style="left:213.5px;top:2196.4px;font-size:57.6px;font-weight:bold;transform:scaleX(0.875);transform-origin:0 0;color:#000;-webkit-text-stroke:0.6px #000;">RFI</div>
<div class="t" style="left:409.5px;top:2213.9px;font-size:34px;color:#000;"><span style="display:inline-block;width:71.4px;transform:scaleX(1.08);transform-origin:0 0">1/32</span><span style="font-size:39px;letter-spacing:4.8px;position:relative;top:0.5px;margin-left:2.5px">**</span></div>
<div class="t" style="left:1000.0px;top:2213.9px;font-size:34px;color:#000;"><span style="display:inline-block;width:71.4px;transform:scaleX(1.08);transform-origin:0 0">9/32</span><span style="font-size:39px;letter-spacing:4.8px;position:relative;top:0.5px;margin-left:2.5px">**</span></div>
<div class="t" style="left:1468.0px;top:2213.9px;font-size:34px;color:#000;"><span style="display:inline-block;width:71.4px;transform:scaleX(1.08);transform-origin:0 0">6/32</span><span style="font-size:39px;letter-spacing:4.8px;position:relative;top:0.5px;margin-left:2.5px">**</span></div>
<div class="t" style="left:10.0px;top:2256.7px;font-size:25.7px;font-weight:bold;transform:scaleX(0.948);transform-origin:0 0;color:#000;">Trailer RIGHT</div>
<div class="t" style="left:10.0px;top:2294.1px;font-size:25.7px;font-weight:bold;transform:scaleX(0.995);transform-origin:0 0;color:#000;">Front&nbsp; Outer</div>
<div class="t" style="left:213.5px;top:2278.3px;font-size:57.6px;font-weight:bold;transform:scaleX(0.880);transform-origin:0 0;color:#000;-webkit-text-stroke:0.6px #000;">RFO</div>
<div class="t" style="left:409.5px;top:2294.8px;font-size:34px;color:#000;"><span style="display:inline-block;width:71.4px;transform:scaleX(1.08);transform-origin:0 0">6/32</span><span style="font-size:39px;letter-spacing:4.8px;position:relative;top:0.5px;margin-left:2.5px">**</span></div>
<div class="t" style="left:1000.0px;top:2294.8px;font-size:34px;color:#000;"><span style="display:inline-block;width:91.9px;transform:scaleX(1.08);transform-origin:0 0">10/32</span><span style="font-size:39px;letter-spacing:4.8px;position:relative;top:0.5px;margin-left:2.5px">**</span></div>
<div class="t" style="left:1468.0px;top:2294.8px;font-size:34px;color:#000;"><span style="display:inline-block;width:91.9px;transform:scaleX(1.08);transform-origin:0 0">12/32</span><span style="font-size:39px;letter-spacing:4.8px;position:relative;top:0.5px;margin-left:2.5px">**</span></div>
<div class="t" style="left:10.0px;top:2338.7px;font-size:25.7px;font-weight:bold;transform:scaleX(0.900);transform-origin:0 0;color:#000;">Trailer LEFT</div>
<div class="t" style="left:10.0px;top:2376.1px;font-size:25.7px;font-weight:bold;transform:scaleX(0.990);transform-origin:0 0;color:#000;">Rear Outer</div>
<div class="t" style="left:213.6px;top:2360.3px;font-size:57.6px;font-weight:bold;transform:scaleX(0.858);transform-origin:0 0;color:#000;-webkit-text-stroke:0.6px #000;">LRO</div>
<div class="t" style="left:409.5px;top:2377.8px;font-size:34px;color:#000;"><span style="display:inline-block;width:71.4px;transform:scaleX(1.08);transform-origin:0 0">9/32</span><span style="font-size:39px;letter-spacing:4.8px;position:relative;top:0.5px;margin-left:2.5px">**</span></div>
<div class="t" style="left:1000.0px;top:2377.8px;font-size:34px;color:#000;"><span style="display:inline-block;width:71.4px;transform:scaleX(1.08);transform-origin:0 0">9/32</span><span style="font-size:39px;letter-spacing:4.8px;position:relative;top:0.5px;margin-left:2.5px">**</span></div>
<div class="t" style="left:1468.0px;top:2377.8px;font-size:34px;color:#000;"><span style="display:inline-block;width:71.4px;transform:scaleX(1.08);transform-origin:0 0">9/32</span><span style="font-size:39px;letter-spacing:4.8px;position:relative;top:0.5px;margin-left:2.5px">**</span></div>
<div class="t" style="left:10.0px;top:2420.6px;font-size:25.7px;font-weight:bold;transform:scaleX(0.900);transform-origin:0 0;color:#000;">Trailer LEFT</div>
<div class="t" style="left:10.0px;top:2458.0px;font-size:25.7px;font-weight:bold;transform:scaleX(0.978);transform-origin:0 0;color:#000;">Rear Inner</div>
<div class="t" style="left:213.7px;top:2442.2px;font-size:57.6px;font-weight:bold;transform:scaleX(0.836);transform-origin:0 0;color:#000;-webkit-text-stroke:0.6px #000;">LRI</div>
<div class="t" style="left:409.5px;top:2458.7px;font-size:34px;color:#000;"><span style="display:inline-block;width:71.4px;transform:scaleX(1.08);transform-origin:0 0">3/32</span><span style="font-size:39px;letter-spacing:4.8px;position:relative;top:0.5px;margin-left:2.5px">**</span></div>
<div class="t" style="left:1000.0px;top:2458.7px;font-size:34px;color:#000;"><span style="display:inline-block;width:71.4px;transform:scaleX(1.08);transform-origin:0 0">6/32</span><span style="font-size:39px;letter-spacing:4.8px;position:relative;top:0.5px;margin-left:2.5px">**</span></div>
<div class="t" style="left:1468.0px;top:2458.7px;font-size:34px;color:#000;"><span style="display:inline-block;width:71.4px;transform:scaleX(1.08);transform-origin:0 0">4/32</span><span style="font-size:39px;letter-spacing:4.8px;position:relative;top:0.5px;margin-left:2.5px">**</span></div>
<div class="t" style="left:10.0px;top:2502.6px;font-size:25.7px;font-weight:bold;transform:scaleX(0.948);transform-origin:0 0;color:#000;">Trailer RIGHT</div>
<div class="t" style="left:10.0px;top:2540.0px;font-size:25.7px;font-weight:bold;transform:scaleX(0.978);transform-origin:0 0;color:#000;">Rear Inner</div>
<div class="t" style="left:213.5px;top:2524.2px;font-size:57.6px;font-weight:bold;transform:scaleX(0.887);transform-origin:0 0;color:#000;-webkit-text-stroke:0.6px #000;">RRI</div>
<div class="t" style="left:409.5px;top:2541.7px;font-size:34px;color:#000;"><span style="display:inline-block;width:71.4px;transform:scaleX(1.08);transform-origin:0 0">9/32</span><span style="font-size:39px;letter-spacing:4.8px;position:relative;top:0.5px;margin-left:2.5px">**</span></div>
<div class="t" style="left:1000.0px;top:2541.7px;font-size:34px;color:#000;"><span style="display:inline-block;width:71.4px;transform:scaleX(1.08);transform-origin:0 0">9/32</span><span style="font-size:39px;letter-spacing:4.8px;position:relative;top:0.5px;margin-left:2.5px">**</span></div>
<div class="t" style="left:1468.0px;top:2541.7px;font-size:34px;color:#000;"><span style="display:inline-block;width:71.4px;transform:scaleX(1.08);transform-origin:0 0">4/32</span><span style="font-size:39px;letter-spacing:4.8px;position:relative;top:0.5px;margin-left:2.5px">**</span></div>
<svg class="r" style="left:860.5px;top:1120.4px" width="41.2" height="36.7" viewBox="0 0 41.2 36.7"><use href="#chk"/></svg>
<svg class="r" style="left:885.5px;top:1188.6px" width="64" height="48.6" viewBox="0 0 64 48.6"><use href="#wrn"/></svg>
<svg class="r" style="left:882.0px;top:1267.7px" width="74" height="66.5" viewBox="0 0 74 66.5"><use href="#stp"/></svg>
<svg class="r" style="left:860.5px;top:1365.9px" width="41.2" height="36.7" viewBox="0 0 41.2 36.7"><use href="#chk"/></svg>
<svg class="r" style="left:881.0px;top:1436.6px" width="64" height="48.6" viewBox="0 0 64 48.6"><use href="#wrn"/></svg>
<svg class="r" style="left:874.0px;top:1523.9px" width="64" height="48.6" viewBox="0 0 64 48.6"><use href="#wrn"/></svg>
<svg class="r" style="left:896.0px;top:1612.5px" width="41.2" height="36.7" viewBox="0 0 41.2 36.7"><use href="#chk"/></svg>
<svg class="r" style="left:879.0px;top:1688.1px" width="64" height="48.6" viewBox="0 0 64 48.6"><use href="#wrn"/></svg>
<svg class="r" style="left:864.4px;top:1755.4px" width="74" height="66.5" viewBox="0 0 74 66.5"><use href="#stp"/></svg>
<svg class="r" style="left:879.0px;top:1849.4px" width="64" height="48.6" viewBox="0 0 64 48.6"><use href="#wrn"/></svg>
<svg class="r" style="left:1369.3px;top:1120.4px" width="41.2" height="36.7" viewBox="0 0 41.2 36.7"><use href="#chk"/></svg>
<svg class="r" style="left:1364.8px;top:1196.3px" width="64" height="48.6" viewBox="0 0 64 48.6"><use href="#wrn"/></svg>
<svg class="r" style="left:1369.6px;top:1271.3px" width="64" height="48.6" viewBox="0 0 64 48.6"><use href="#wrn"/></svg>
<svg class="r" style="left:1374.6px;top:1357.9px" width="64" height="48.6" viewBox="0 0 64 48.6"><use href="#wrn"/></svg>
<svg class="r" style="left:1359.5px;top:1442.7px" width="41.2" height="36.7" viewBox="0 0 41.2 36.7"><use href="#chk"/></svg>
<svg class="r" style="left:1367.0px;top:1528.4px" width="41.2" height="36.7" viewBox="0 0 41.2 36.7"><use href="#chk"/></svg>
<svg class="r" style="left:1375.2px;top:1603.4px" width="64" height="48.6" viewBox="0 0 64 48.6"><use href="#wrn"/></svg>
<svg class="r" style="left:1356.7px;top:1675.6px" width="74" height="66.5" viewBox="0 0 74 66.5"><use href="#stp"/></svg>
<svg class="r" style="left:1363.4px;top:1755.1px" width="74" height="66.5" viewBox="0 0 74 66.5"><use href="#stp"/></svg>
<svg class="r" style="left:1373.0px;top:1851.8px" width="64" height="48.6" viewBox="0 0 64 48.6"><use href="#wrn"/></svg>
<svg class="r" style="left:873.6px;top:2015.3px" width="64" height="48.6" viewBox="0 0 64 48.6"><use href="#wrn"/></svg>
<svg class="r" style="left:873.6px;top:2106.3px" width="41.2" height="36.7" viewBox="0 0 41.2 36.7"><use href="#chk"/></svg>
<svg class="r" style="left:864.0px;top:2163.2px" width="74" height="66.5" viewBox="0 0 74 66.5"><use href="#stp"/></svg>
<svg class="r" style="left:873.6px;top:2261.7px" width="64" height="48.6" viewBox="0 0 64 48.6"><use href="#wrn"/></svg>
<svg class="r" style="left:890.6px;top:2356.5px" width="41.2" height="36.7" viewBox="0 0 41.2 36.7"><use href="#chk"/></svg>
<svg class="r" style="left:869.8px;top:2407.1px" width="74" height="66.5" viewBox="0 0 74 66.5"><use href="#stp"/></svg>
<svg class="r" style="left:893.1px;top:2510.7px" width="41.2" height="36.7" viewBox="0 0 41.2 36.7"><use href="#chk"/></svg>
<svg class="r" style="left:1372.5px;top:2024.1px" width="41.2" height="36.7" viewBox="0 0 41.2 36.7"><use href="#chk"/></svg>
<svg class="r" style="left:1372.5px;top:2097.4px" width="64" height="48.6" viewBox="0 0 64 48.6"><use href="#wrn"/></svg>
<svg class="r" style="left:1372.5px;top:2188.4px" width="41.2" height="36.7" viewBox="0 0 41.2 36.7"><use href="#chk"/></svg>
<svg class="r" style="left:1370.0px;top:2270.5px" width="41.2" height="36.7" viewBox="0 0 41.2 36.7"><use href="#chk"/></svg>
<svg class="r" style="left:1390.1px;top:2356.4px" width="41.2" height="36.7" viewBox="0 0 41.2 36.7"><use href="#chk"/></svg>
<svg class="r" style="left:1372.5px;top:2425.9px" width="64" height="48.6" viewBox="0 0 64 48.6"><use href="#wrn"/></svg>
<svg class="r" style="left:1372.5px;top:2519.4px" width="41.2" height="36.7" viewBox="0 0 41.2 36.7"><use href="#chk"/></svg>
<svg class="r" style="left:1827.8px;top:2015.3px" width="64" height="48.6" viewBox="0 0 64 48.6"><use href="#wrn"/></svg>
<svg class="r" style="left:1832.8px;top:2106.2px" width="41.2" height="36.7" viewBox="0 0 41.2 36.7"><use href="#chk"/></svg>
<svg class="r" style="left:1822.7px;top:2174.4px" width="64" height="48.6" viewBox="0 0 64 48.6"><use href="#wrn"/></svg>
<svg class="r" style="left:1832.8px;top:2270.0px" width="41.2" height="36.7" viewBox="0 0 41.2 36.7"><use href="#chk"/></svg>
<svg class="r" style="left:1825.3px;top:2342.4px" width="41.2" height="36.7" viewBox="0 0 41.2 36.7"><use href="#chk"/></svg>
<svg class="r" style="left:1829.8px;top:2406.9px" width="74" height="66.5" viewBox="0 0 74 66.5"><use href="#stp"/></svg>
<svg class="r" style="left:1829.8px;top:2491.5px" width="74" height="66.5" viewBox="0 0 74 66.5"><use href="#stp"/></svg>
<svg class="r" style="left:1823.0px;top:1120.8px" width="41.2" height="36.7" viewBox="0 0 41.2 36.7"><use href="#chk"/></svg>
<svg class="r" style="left:1823.0px;top:1202.8px" width="41.2" height="36.7" viewBox="0 0 41.2 36.7"><use href="#chk"/></svg>
<svg class="r" style="left:1823.0px;top:1284.8px" width="41.2" height="36.7" viewBox="0 0 41.2 36.7"><use href="#chk"/></svg>
<svg class="r" style="left:1823.0px;top:1366.7px" width="41.2" height="36.7" viewBox="0 0 41.2 36.7"><use href="#chk"/></svg>
<svg class="r" style="left:1823.0px;top:1448.7px" width="41.2" height="36.7" viewBox="0 0 41.2 36.7"><use href="#chk"/></svg>
<svg class="r" style="left:1823.0px;top:1530.6px" width="41.2" height="36.7" viewBox="0 0 41.2 36.7"><use href="#chk"/></svg>
<svg class="r" style="left:1823.0px;top:1612.6px" width="41.2" height="36.7" viewBox="0 0 41.2 36.7"><use href="#chk"/></svg>
<svg class="r" style="left:1823.0px;top:1694.5px" width="41.2" height="36.7" viewBox="0 0 41.2 36.7"><use href="#chk"/></svg>
<svg class="r" style="left:1823.0px;top:1776.5px" width="41.2" height="36.7" viewBox="0 0 41.2 36.7"><use href="#chk"/></svg>
<svg class="r" style="left:1823.0px;top:1858.4px" width="41.2" height="36.7" viewBox="0 0 41.2 36.7"><use href="#chk"/></svg>
<svg class="r" style="left:1127px;top:2658px" width="58.8" height="52.8" viewBox="0 0 41.2 36.7" preserveAspectRatio="none"><use href="#chk"/></svg>
<svg class="r" style="left:1300.6px;top:2657.9px" width="74.4" height="54" viewBox="0 0 64 48.6" preserveAspectRatio="none"><use href="#wrn"/></svg>
<svg class="r" style="left:1557.9px;top:2657.9px" width="74.4" height="66.4" viewBox="0 0 74 66.5" preserveAspectRatio="none"><use href="#stp"/></svg>
<div class="t" style="left:1188.0px;top:2679.2px;font-size:23.3px;font-weight:bold;transform:scaleX(1.050);transform-origin:0 0;color:#000;">OK</div>
<div class="t" style="left:1373.0px;top:2679.2px;font-size:23.3px;font-weight:bold;transform:scaleX(1.110);transform-origin:0 0;color:#000;">CAUTION</div>
<div class="t" style="left:1650.0px;top:2679.5px;font-size:23.3px;font-weight:bold;transform:scaleX(1.040);transform-origin:0 0;color:#000;">STOP</div>
<div class="t" style="left:1650.0px;top:2711.7px;font-size:23.3px;font-weight:bold;transform:scaleX(1.055);transform-origin:0 0;color:#000;">CHANGE TIRES</div>
<svg class="r" style="left:0;top:0" width="1920" height="215" viewBox="0 0 1920 215">
<defs>
<linearGradient id="hood" x1="0" y1="0" x2="0" y2="1"><stop offset="0" stop-color="#d0d0d0"/><stop offset="0.45" stop-color="#ffffff"/><stop offset="1" stop-color="#c8c8c8"/></linearGradient>
<linearGradient id="cab" x1="0" y1="0" x2="0" y2="1"><stop offset="0" stop-color="#dadada"/><stop offset="0.5" stop-color="#ffffff"/><stop offset="1" stop-color="#d6d6d6"/></linearGradient>
<linearGradient id="wind" x1="0" y1="0" x2="1" y2="0"><stop offset="0" stop-color="#e0e0e0"/><stop offset="0.25" stop-color="#b8b8b8"/><stop offset="0.7" stop-color="#6a6a6a"/><stop offset="1" stop-color="#8a8a8a"/></linearGradient>
<linearGradient id="strip" x1="0" y1="0" x2="1" y2="0"><stop offset="0" stop-color="#3a3a3a"/><stop offset="0.5" stop-color="#5a5a5a"/><stop offset="1" stop-color="#c8c8c8"/></linearGradient>
<linearGradient id="trl" x1="0" y1="0" x2="0" y2="1"><stop offset="0" stop-color="#d8d8d8"/><stop offset="0.15" stop-color="#dcdcdc"/><stop offset="0.42" stop-color="#fcfcfc"/><stop offset="0.6" stop-color="#fdfdfd"/><stop offset="0.86" stop-color="#dedede"/><stop offset="1" stop-color="#d8d8d8"/></linearGradient>
<linearGradient id="strip2" x1="0" y1="0" x2="1" y2="0"><stop offset="0" stop-color="#3a3a3a"/><stop offset="0.6" stop-color="#505050"/><stop offset="1" stop-color="#5e5e5e"/></linearGradient>
<radialGradient id="hub" cx="0.4" cy="0.4" r="0.7"><stop offset="0" stop-color="#9a9a9a"/><stop offset="1" stop-color="#3c3c3c"/></radialGradient>
<linearGradient id="frame" x1="0" y1="0" x2="1" y2="0"><stop offset="0" stop-color="#dcdcdc"/><stop offset="0.85" stop-color="#dcdcdc"/><stop offset="1" stop-color="#f4f4f4"/></linearGradient>
</defs>
<rect x="1041" y="108" width="145" height="45" fill="url(#frame)"/>
<rect x="1016" y="78" width="24.5" height="104.5" fill="#e2e2e2"/>
<path d="M853,78 L940,78 L940,182.5 L853,182.5 Q840,175 836,155 L836,103 Q840,84 853,78 Z" fill="#d8d8d8" stroke="#2b2b2b" stroke-width="1.6"/>
<rect x="836" y="103" width="96" height="25.5" fill="url(#hood)" stroke="#2b2b2b" stroke-width="1.4"/>
<rect x="836" y="128.5" width="96" height="26.5" fill="url(#hood)" stroke="#2b2b2b" stroke-width="1.4"/>
<rect x="852.5" y="78.7" width="53" height="15" rx="2" fill="#262626"/>
<rect x="852.5" y="166.7" width="53" height="15" rx="2" fill="#262626"/>
<line x1="905.5" y1="86" x2="936" y2="86" stroke="#2b2b2b" stroke-width="1.3"/>
<line x1="905.5" y1="174.5" x2="936" y2="174.5" stroke="#2b2b2b" stroke-width="1.3"/>
<path d="M942,80 L966.5,90.5 L966.5,170 L942,180.5 Q930,130 942,80 Z" fill="url(#wind)" stroke="#2b2b2b" stroke-width="1.2"/>
<path d="M939,78 Q926,130 939,182.5" fill="none" stroke="#2b2b2b" stroke-width="1.6"/>
<rect x="966.5" y="90.3" width="50.5" height="79.7" fill="url(#cab)"/>
<path d="M946,81.4 L1017,81.4 L1017,90.3 L966.5,90.3 Z" fill="url(#strip)"/>
<path d="M946,179 L1017,179 L1017,170 L966.5,170 Z" fill="url(#strip2)"/>
<line x1="940" y1="78.6" x2="1017" y2="78.6" stroke="#555" stroke-width="1.2"/>
<line x1="940" y1="182" x2="1017" y2="182" stroke="#555" stroke-width="1.2"/>
<g fill="#262626">
<rect x="1084.6" y="80" width="56" height="14.4" rx="2.5"/><rect x="1146" y="80" width="55" height="14.4" rx="2.5"/>
<rect x="1084.6" y="97.1" width="56" height="13.6" rx="2.5"/><rect x="1146" y="97.1" width="55" height="13.6" rx="2.5"/>
<rect x="1084.6" y="150.3" width="56" height="13.7" rx="2.5"/><rect x="1146" y="150.3" width="55" height="13.7" rx="2.5"/>
<rect x="1084.6" y="167.4" width="56" height="14.3" rx="2.5"/><rect x="1146" y="167.4" width="55" height="14.3" rx="2.5"/>
</g>
<path d="M1140,118 L1156,122 Q1160,130 1156,139 L1140,143 Z" fill="#6a6a6a"/>
<circle cx="1136.5" cy="130.5" r="15" fill="url(#hub)"/>
<line x1="1137" y1="130.5" x2="1150" y2="130.5" stroke="#444" stroke-width="1"/>
<rect x="1233.5" y="83.5" width="621" height="100.5" fill="url(#trl)" stroke="#4a4a4a" stroke-width="2"/>
<g fill="#262626">
<rect x="1629.3" y="83.5" width="54.5" height="14.2" rx="2"/><rect x="1689.6" y="83.5" width="54.4" height="14.2" rx="2"/>
<rect x="1629.3" y="100.3" width="54.5" height="13.7" rx="2"/><rect x="1689.6" y="100.3" width="54.4" height="13.7" rx="2"/>
<rect x="1629.3" y="153" width="54.5" height="14.3" rx="2"/><rect x="1689.6" y="153" width="54.4" height="14.3" rx="2"/>
<rect x="1629.3" y="170.3" width="54.5" height="13.7" rx="2"/><rect x="1689.6" y="170.3" width="54.4" height="13.7" rx="2"/>
</g>
<g font-family="Liberation Sans" font-weight="bold" font-size="15.5" fill="#2a72c4" stroke="#2a72c4" stroke-width="0.35">
<text x="870.6" y="74.3" textLength="20.1" lengthAdjust="spacingAndGlyphs">RF</text>
<text x="867.2" y="203.5" textLength="17.4" lengthAdjust="spacingAndGlyphs">LF</text>
<text x="1082.9" y="74.6" textLength="34.4" lengthAdjust="spacingAndGlyphs">RFO</text>
<text x="1166.2" y="74.6" textLength="35.8" lengthAdjust="spacingAndGlyphs">RRO</text>
<text x="1085.0" y="127.1" textLength="26.2" lengthAdjust="spacingAndGlyphs">RFI</text>
<text x="1084.3" y="146.9" textLength="22.8" lengthAdjust="spacingAndGlyphs">LFI</text>
<text x="1172.3" y="127.1" textLength="27.6" lengthAdjust="spacingAndGlyphs">RRI</text>
<text x="1172.3" y="146.9" textLength="24.9" lengthAdjust="spacingAndGlyphs">LRI</text>
<text x="1083.6" y="203.5" textLength="32.4" lengthAdjust="spacingAndGlyphs">LFO</text>
<text x="1171.0" y="203.5" textLength="33.7" lengthAdjust="spacingAndGlyphs">LRO</text>
<text x="1627.5" y="75.1" textLength="34.1" lengthAdjust="spacingAndGlyphs">RFO</text>
<text x="1710.4" y="75.1" textLength="36.2" lengthAdjust="spacingAndGlyphs">RRO</text>
<text x="1630.0" y="127.9" textLength="25.3" lengthAdjust="spacingAndGlyphs">RFI</text>
<text x="1717.0" y="127.9" textLength="27.0" lengthAdjust="spacingAndGlyphs">RRI</text>
<text x="1628.3" y="148.0" textLength="22.8" lengthAdjust="spacingAndGlyphs">LFI</text>
<text x="1717.0" y="148.0" textLength="25.0" lengthAdjust="spacingAndGlyphs">LRI</text>
<text x="1628.3" y="203.8" textLength="31.2" lengthAdjust="spacingAndGlyphs">LFO</text>
<text x="1715.4" y="203.8" textLength="32.8" lengthAdjust="spacingAndGlyphs">LRO</text>
</g></svg>
</body></html>
